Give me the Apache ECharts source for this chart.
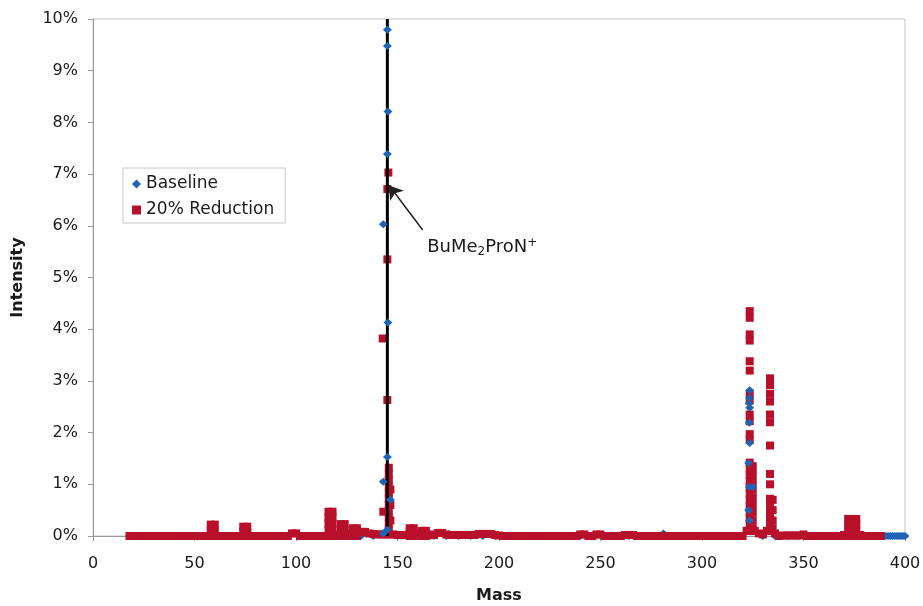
<!DOCTYPE html>
<html>
<head>
<meta charset="utf-8">
<script src="https://cdn.jsdelivr.net/npm/echarts@6/dist/echarts.min.js"></script>
<style>
html,body{margin:0;padding:0;background:#fff;}
#chart{width:923px;height:606px;}
</style>
</head>
<body>
<div id="chart"></div>
<script>
// ---- Data (mass, intensity in %) ----
const xTicks = [0, 50, 100, 150, 200, 250, 300, 350, 400];
const yTicks = [0, 1, 2, 3, 4, 5, 6, 7, 8, 9, 10];

// 20% Reduction: spectrum baseline
const redMass = [
  18,20,22,24,26,28,30,32,34,36,
  38,40,42,44,46,48,50,52,54,56,
  58,60,62,64,66,68,70,72,74,76,
  78,80,82,84,86,88,90,92,94,96,
  98,100,102,104,106,108,110,112,114,116,
  118,120,122,124,126,128,130,132,134,136,
  138,140,142,144,146,148,150,152,154,156,
  158,160,162,164,166,168,170,172,174,176,
  178,180,182,184,186,188,190,192,194,196,
  198,200,202,204,206,208,210,212,214,216,
  218,220,222,224,226,228,230,232,234,236,
  238,240,242,244,246,248,250,252,254,256,
  258,260,262,264,266,268,270,272,274,276,
  278,280,282,284,286,288,290,292,294,296,
  298,300,302,304,306,308,310,312,314,316,
  318,320,322,324,326,328,330,332,334,336,
  338,340,342,344,346,348,350,352,354,356,
  358,360,362,364,366,368,370,372,374,376,
  378,380,382,384,386,388
];
const redIntensity = [
  0,0,0,0,0,0,0,0,0,0,
  0,0,0,0,0,0,0,0,0,0,
  0.22,0.22,0,0,0,0,0,0,0.18,0.18,
  0,0,0,0,0,0,0,0,0,0,
  0.05,0.05,0,0,0,0,0,0,0,0.47,
  0.47,0.03,0.23,0.23,0.05,0.15,0.15,0.08,0.08,0.05,
  0.04,0.03,0.03,0.03,0.03,0.03,0.02,0.02,0.02,0.15,
  0.15,0.03,0.1,0.1,0.03,0.02,0.06,0.06,0.03,0.02,
  0.02,0.02,0.02,0.02,0.02,0.02,0.04,0.04,0.04,0.04,
  0.02,0.01,0,0,0,0,0,0,0,0,
  0,0,0,0,0,0,0,0,0,0,
  0,0.03,0.03,0,0,0.03,0.03,0,0,0,
  0,0,0.02,0.02,0.02,0,0,0,0,0,
  0,0,0,0,0,0,0,0,0,0,
  0,0,0,0,0,0,0,0,0,0,
  0,0,0.1,0.1,0.1,0.05,0.03,0.1,0.1,0.05,
  0,0.01,0.01,0.01,0.01,0.01,0.03,0,0,0,
  0,0,0,0,0,0,0.02,0.33,0.33,0.33,
  0.02,0,0,0,0,0
];
// 20% Reduction: lower points under the small peaks
const redFillMass = [
  58,58,60,60, 74,74,76,76,
  116,116,116,116,118,118,118,118, 122,122,124,124, 128,128,130,130,
  156,156,158,158, 162,164,
  372,372,372,374,374,374,376,376,376
];
const redFillIntensity = [
  0.1,0,0.1,0, 0.08,0,0.08,0,
  0.36,0.24,0.12,0,0.36,0.24,0.12,0, 0.1,0,0.1,0, 0.06,0,0.06,0,
  0.06,0,0.06,0, 0,0,
  0.22,0.1,0,0.22,0.1,0,0.22,0.1,0
];

// 20% Reduction: peak points
const redPeakMass = [
  145.5,145,145,142.7,145,145.7,145.7,145.7,145.7,145.7,145.7,145.7,145.7,145.7,145.7,145.7,143,146.5,146.5,146.5,
  323.5,323.5,323.5,323.5,323.5,323.5,323.5,323.5,323.5,323.5,323.5,323.5,
  323.5,323.5,323.5,323.5,323.5,323.5,323.5,323.5,323.5,323.5,323.5,323.5,
  325,325,325,325,325,325,325,325,325,
  333.5,333.5,333.5,333.5,333.5,333.5,333.5,333.5,333.5,333.5,333.5,333.5,333.5,333.5,333.5,
  334.8,334.8,334.8,334.8
];
const redPeakIntensity = [
  7.03,6.71,5.35,3.82,2.63,1.32,1.2,1.08,0.96,0.84,0.72,0.6,0.48,0.36,0.24,0.12,0.47,0.9,0.6,0.3,
  4.35,4.22,3.9,3.78,3.38,3.2,2.75,2.62,2.35,2.22,1.97,1.86,
  1.42,1.3,1.18,1.06,0.94,0.82,0.7,0.58,0.46,0.34,0.22,0.1,
  1.35,1.2,1.05,0.9,0.75,0.6,0.45,0.3,0.15,
  3.05,2.92,2.75,2.6,2.35,2.2,1.75,1.2,1.0,0.72,0.6,0.48,0.36,0.24,0.12,
  0.7,0.5,0.3,0.15
];

// Baseline: spectrum baseline
const blueMass = [
  18,24,30,36,42,48,54,60,66,72,78,84,90,96,102,108,114,120,126,132,
  138,150,156,162,168,174,180,186,192,198,204,210,216,222,228,234,240,246,252,258,
  264,270,276,281,288,294,300,306,312,318,330,336,342,348,354,360,366,372,378,384,
  386,387,388,389,390,391,392,393,394,395,396,397,398,399,400
];
const blueIntensity = [
  0,0,0,0,0,0,0,0,0,0,0,0,0,0,0,0,0,0,0,0,
  0,0,0,0,0,0,0,0,0,0,0,0,0,0,0,0,0,0,0,0,
  0,0,0,0.05,0,0,0,0,0,0,0,0,0,0,0,0,0,0,0,0,
  0,0,0,0,0,0,0,0,0,0,0,0,0,0,0
];
// Baseline: peak points
const bluePeakMass = [
  145,145,145.3,145,143,145.3,145,143,146.5,145,143,
  323.5,323.5,323.3,323.5,323.3,323.5,323,323.3,325,323,323.5
];
const bluePeakIntensity = [
  9.79,9.48,8.21,7.39,6.03,4.13,1.53,1.05,0.7,0.12,0.05,
  2.82,2.67,2.57,2.48,2.19,1.8,1.41,0.95,0.95,0.5,0.3
];

// Marker line and annotation
const markerMass = [145, 145];
const markerIntensity = [0, 10];
const arrowFrom = [162.4, 5.92];
const arrowTo = [145.9, 6.78];
const labelAnchor = [164.6, 5.59];

function zip(a, b) { return a.map((v, i) => [v, b[i]]); }

const FONT = 'DejaVu Sans, Verdana, sans-serif';
const BLUE = '#1f64b4';
const RED = '#b8102b';
const TXT = '#1a1a1a';

const chart = echarts.init(document.getElementById('chart'), null, {renderer: 'canvas'});
const option = {
  animation: false,
  backgroundColor: '#fff',
  textStyle: {fontFamily: FONT},
  grid: {left: 93, right: 18, top: 19, bottom: 70, containLabel: false, outerBoundsMode: 'none',
         show: true, borderColor: '#c4c4c4', borderWidth: 1, backgroundColor: 'transparent'},
  legend: {
    data: [{name: 'Baseline', icon: 'diamond'}, {name: '20% Reduction', icon: 'rect'}],
    orient: 'vertical', left: 123, top: 168,
    itemWidth: 9, itemHeight: 9, itemGap: 6,
    padding: [6, 11, 3, 9],
    borderColor: '#c8c8c8', borderWidth: 1, backgroundColor: '#fff',
    textStyle: {fontSize: 17, color: TXT, fontFamily: FONT, lineHeight: 20}
  },
  xAxis: {
    type: 'value', min: xTicks[0], max: xTicks[xTicks.length - 1], interval: 50,
    name: 'Mass', nameLocation: 'middle', nameGap: 52,
    nameTextStyle: {fontSize: 16, fontWeight: 'bold', color: TXT, fontFamily: FONT},
    axisLine: {show: true, onZero: false, lineStyle: {color: '#9a9a9a', width: 1}},
    axisTick: {show: true, inside: false, length: 5, lineStyle: {color: '#9a9a9a'}},
    axisLabel: {fontSize: 16, color: TXT, margin: 20, fontFamily: FONT},
    splitLine: {show: false}
  },
  yAxis: {
    type: 'value', min: yTicks[0], max: yTicks[yTicks.length - 1], interval: 1,
    name: 'Intensity', nameLocation: 'middle', nameGap: 67, nameRotate: 90,
    nameTextStyle: {fontSize: 16, fontWeight: 'bold', color: TXT, fontFamily: FONT},
    axisLine: {show: true, lineStyle: {color: '#9a9a9a', width: 1}},
    axisTick: {show: true, inside: false, length: 5, lineStyle: {color: '#9a9a9a'}},
    axisLabel: {fontSize: 16, color: TXT, margin: 15, formatter: '{value}%', fontFamily: FONT},
    splitLine: {show: false}
  },
  series: [
    {
      name: 'Baseline', type: 'scatter', symbol: 'diamond', symbolSize: [9, 8],
      itemStyle: {color: BLUE, opacity: 1, borderWidth: 0}, z: 2,
      data: zip(blueMass, blueIntensity)
    },
    {
      name: '20% Reduction', type: 'scatter', symbol: 'rect', symbolSize: [8, 8],
      itemStyle: {color: RED, opacity: 1, borderWidth: 0}, z: 3,
      data: zip(redMass, redIntensity)
        .concat(zip(redFillMass, redFillIntensity))
        .concat(zip(redPeakMass, redPeakIntensity))
    },
    {
      name: 'marker', type: 'line', symbol: 'none', z: 4,
      lineStyle: {color: '#000', width: 3},
      data: zip(markerMass, markerIntensity),
      markLine: {
        silent: true, animation: false,
        symbol: ['none', 'arrow'], symbolSize: 13,
        lineStyle: {color: '#222', width: 1.5, type: 'solid'},
        label: {show: false},
        data: [[{coord: arrowFrom}, {coord: arrowTo}]]
      },
      markPoint: {
        silent: true, symbol: 'circle', symbolSize: 0,
        label: {
          show: true, position: 'right', distance: 0,
          formatter: 'BuMe{sub|2}ProN{sup|+}',
          fontSize: 18, color: TXT, fontFamily: FONT,
          rich: {
            sub: {fontSize: 12, color: TXT, fontFamily: FONT, padding: [9, 0, 0, 0]},
            sup: {fontSize: 12, color: TXT, fontFamily: FONT, padding: [0, 0, 9, 0]}
          }
        },
        data: [{coord: labelAnchor}]
      }
    },
    {
      name: 'Baseline', type: 'scatter', symbol: 'diamond', symbolSize: [9, 8],
      itemStyle: {color: BLUE, opacity: 1, borderWidth: 0}, z: 5,
      data: zip(bluePeakMass, bluePeakIntensity)
    }
  ]
};
chart.setOption(option);
</script>
</body>
</html>
